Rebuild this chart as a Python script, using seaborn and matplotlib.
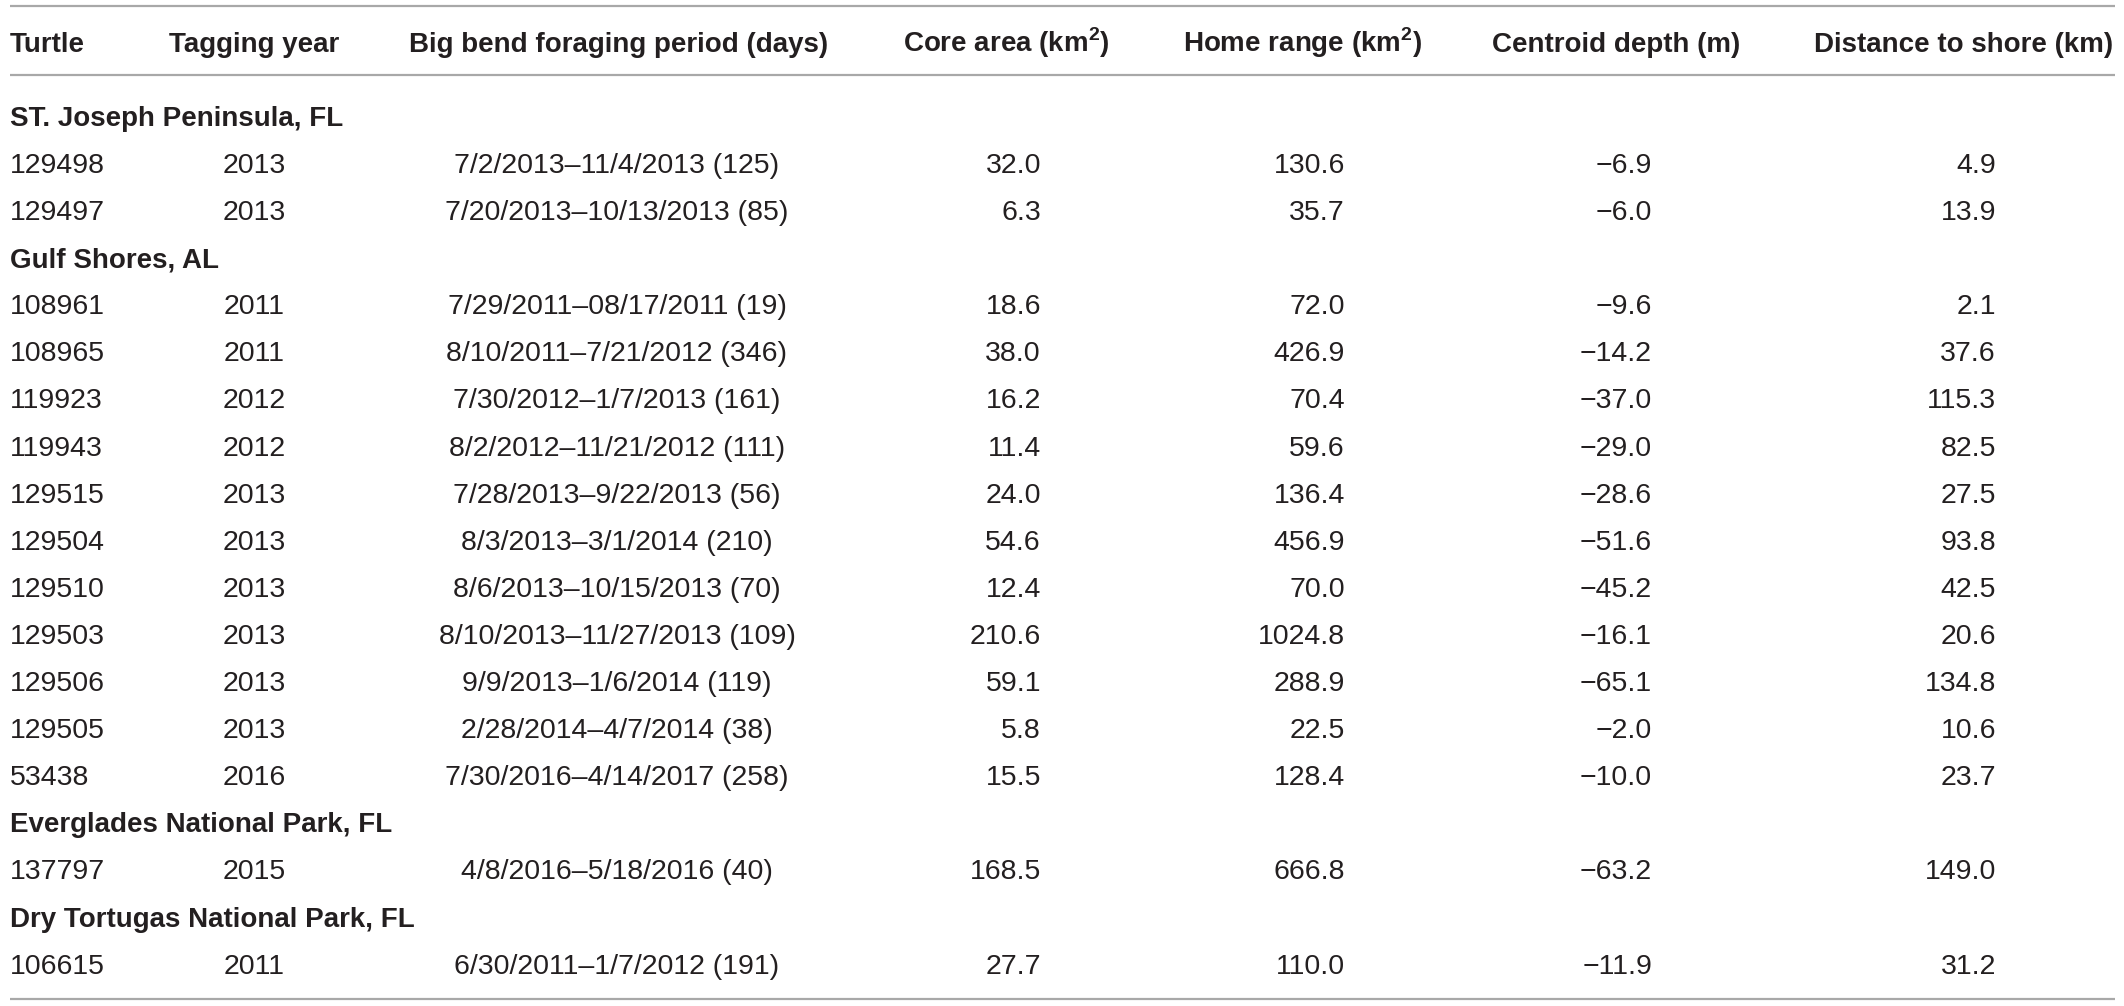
import numpy as np
import pandas as pd
import seaborn as sns
import matplotlib.pyplot as plt

# table content
headers = ["Turtle", "Tagging year", "Big bend foraging period (days)",
           r"Core area (km$^{\mathbf{2}}$)", r"Home range (km$^{\mathbf{2}}$)",
           "Centroid depth (m)", "Distance to shore (km)"]

sites = ["ST. Joseph Peninsula, FL", "Gulf Shores, AL",
         "Everglades National Park, FL", "Dry Tortugas National Park, FL"]
site_of_turtle = [0, 0, 1, 1, 1, 1, 1, 1, 1, 1, 1, 1, 1, 2, 3]

turtle = ["129498", "129497", "108961", "108965", "119923", "119943", "129515",
          "129504", "129510", "129503", "129506", "129505", "53438", "137797",
          "106615"]
tag_year = [2013, 2013, 2011, 2011, 2012, 2012, 2013, 2013, 2013, 2013, 2013,
            2013, 2016, 2015, 2011]
period_start = ["7/2/2013", "7/20/2013", "7/29/2011", "8/10/2011", "7/30/2012",
                "8/2/2012", "7/28/2013", "8/3/2013", "8/6/2013", "8/10/2013",
                "9/9/2013", "2/28/2014", "7/30/2016", "4/8/2016", "6/30/2011"]
period_end = ["11/4/2013", "10/13/2013", "08/17/2011", "7/21/2012", "1/7/2013",
              "11/21/2012", "9/22/2013", "3/1/2014", "10/15/2013", "11/27/2013",
              "1/6/2014", "4/7/2014", "4/14/2017", "5/18/2016", "1/7/2012"]
period_days = [125, 85, 19, 346, 161, 111, 56, 210, 70, 109, 119, 38, 258, 40, 191]
core_area = [32.0, 6.3, 18.6, 38.0, 16.2, 11.4, 24.0, 54.6, 12.4, 210.6, 59.1,
             5.8, 15.5, 168.5, 27.7]
home_range = [130.6, 35.7, 72.0, 426.9, 70.4, 59.6, 136.4, 456.9, 70.0, 1024.8,
              288.9, 22.5, 128.4, 666.8, 110.0]
centroid_depth = [-6.9, -6.0, -9.6, -14.2, -37.0, -29.0, -28.6, -51.6, -45.2,
                  -16.1, -65.1, -2.0, -10.0, -63.2, -11.9]
dist_shore = [4.9, 13.9, 2.1, 37.6, 115.3, 82.5, 27.5, 93.8, 42.5, 20.6, 134.8,
              10.6, 23.7, 149.0, 31.2]

df = pd.DataFrame({
    "site": site_of_turtle, "turtle": turtle, "year": tag_year,
    "start": period_start, "end": period_end, "days": period_days,
    "core": core_area, "home": home_range, "depth": centroid_depth,
    "dist": dist_shore,
})


def fmt(v):
    return f"{v:.1f}".replace("-", "\u2212")


# layout (pixels across, rows down)
col_x = [10, 254, 617, 1041, 1345, 1652, 1996]
col_ha = ["left", "center", "center", "right", "right", "right", "right"]
head_x = [10, 254, 619, 1006, 1303, 1616, 1964]
head_ha = ["left", "center", "center", "center", "center", "center", "center"]
txt = "#231f20"
rule = "#a8a8a8"

sns.set_theme(style="white")
plt.rcParams["font.family"] = ["Liberation Sans", "DejaVu Sans"]
plt.rcParams["mathtext.fontset"] = "custom"
plt.rcParams["mathtext.rm"] = "Liberation Sans"
plt.rcParams["mathtext.bf"] = "Liberation Sans:bold"

fig = plt.figure(figsize=(21.24, 10.06), dpi=100)
ax = fig.add_axes([0, 0, 1, 1])
# row i centre at pixel 116 + 47.1*i
top = -116 / 47.1
bot = (1006 - 116) / 47.1
ax.set_xlim(0, 2124)
ax.set_ylim(bot, top)
ax.axis("off")

px = lambda p: (p - 116) / 47.1
base = 0.21  # baseline offset from row centre

# header
for h, x, ha in zip(headers, head_x, head_ha):
    ax.text(x, px(42) + base, h, ha=ha, va="baseline", fontsize=20,
            fontweight="bold", color=txt)

for yy in (px(6), px(75), px(999)):
    ax.plot([10, 2115], [yy, yy], color=rule, lw=1.6, solid_capstyle="butt")

row = 0
for s, name in enumerate(sites):
    ax.text(col_x[0], row + base, name, ha="left", va="baseline", fontsize=20,
            fontweight="bold", color=txt)
    row += 1
    for _, r in df[df["site"] == s].iterrows():
        cells = [r["turtle"], str(r["year"]),
                 f"{r['start']}\u2013{r['end']} ({r['days']})",
                 fmt(r["core"]), fmt(r["home"]), fmt(r["depth"]), fmt(r["dist"])]
        for c, x, ha in zip(cells, col_x, col_ha):
            ax.text(x, row + base, c, ha=ha, va="baseline", fontsize=20.5,
                    color=txt)
        row += 1

fig.savefig("out.png", dpi=100, facecolor="white")
